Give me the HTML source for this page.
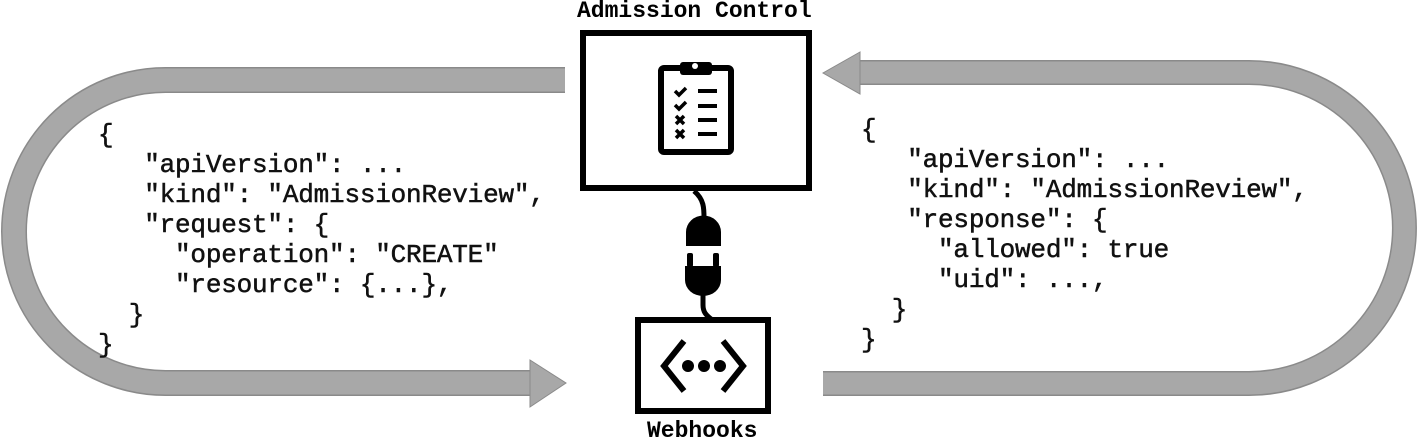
<!DOCTYPE html>
<html><head><meta charset="utf-8"><style>
html,body{margin:0;padding:0;background:#fff;}
body{width:1418px;height:442px;position:relative;overflow:hidden;}
.code{position:absolute;font-family:"Liberation Mono",monospace;font-size:26px;line-height:30px;white-space:pre;color:#111;letter-spacing:-0.2px;-webkit-text-stroke:0.5px #111;}
.lbl{position:absolute;font-family:"Liberation Mono",monospace;font-weight:bold;font-size:23px;color:#000;}
</style></head><body>
<svg width="1418" height="442" style="position:absolute;left:0;top:0">
  <g fill="none" stroke-linejoin="miter">
    <path d="M565 80 H165.5 A151.5 151.5 0 0 0 165.5 383 H532" stroke="#8a8a8a" stroke-width="26"/>
    <path d="M565 80 H165.5 A151.5 151.5 0 0 0 165.5 383 H532" stroke="#a8a8a8" stroke-width="23"/>
    <path d="M823 383.5 H1249 A155.5 155.5 0 0 0 1249 72.5 H858" stroke="#8a8a8a" stroke-width="25"/>
    <path d="M823 383.5 H1249 A155.5 155.5 0 0 0 1249 72.5 H858" stroke="#a8a8a8" stroke-width="22"/>
  </g>
  <polygon points="530,360 566,383 530,407" fill="#a8a8a8" stroke="#8a8a8a" stroke-width="1"/>
  <polygon points="860,52 823,73 860,94" fill="#a8a8a8" stroke="#8a8a8a" stroke-width="1"/>
  <rect x="583" y="33" width="226" height="155" fill="#fff" stroke="#000" stroke-width="6"/>
  <rect x="661" y="68" width="70" height="84" rx="3" fill="none" stroke="#000" stroke-width="6"/>
  <rect x="680" y="62" width="32" height="13" rx="3" fill="#000"/>
  <circle cx="695" cy="66" r="3" fill="#fff"/>
  <g stroke="#000" stroke-width="3.5" fill="none">
    <path d="M675 91 l4 4 l7 -7"/><path d="M675 105 l4 4 l7 -7"/>
    <path d="M676 116 l8 8 M684 116 l-8 8"/><path d="M676 130 l8 8 M684 130 l-8 8"/>
  </g>
  <g stroke="#000" stroke-width="4">
    <path d="M698 91 H717 M698 106 H717 M698 120 H717 M698 134 H717"/>
  </g>
  <path d="M694 191 C705 200 704 210 704 222" stroke="#000" stroke-width="5" fill="none"/>
  <path d="M686 246 V232 a17 16 0 0 1 35 0 V246 Z" fill="#000"/>
  <rect x="687" y="253" width="6" height="14" rx="2" fill="#000"/>
  <rect x="713" y="253" width="6" height="14" rx="2" fill="#000"/>
  <path d="M685 266 H721 V280 a18 16 0 0 1 -36 0 Z" fill="#000"/>
  <path d="M703 292 V305 C703 312 706 315 711 319" stroke="#000" stroke-width="5" fill="none"/>
  <rect x="638" y="320" width="130" height="91" fill="#fff" stroke="#000" stroke-width="6"/>
  <g stroke="#000" stroke-width="6" fill="none">
    <path d="M684 341 L664 366 L684 391"/>
    <path d="M723 341 L743 366 L723 391"/>
  </g>
  <circle cx="688" cy="366" r="6" fill="#000"/>
  <circle cx="704" cy="366" r="6" fill="#000"/>
  <circle cx="720" cy="366" r="6" fill="#000"/>
</svg>
<div class="lbl" style="left:577px;top:-2px;">Admission Control</div>
<div class="lbl" style="left:647px;top:418px;">Webhooks</div>
<div class="code" style="left:98px;top:120px;">{
   "apiVersion": ...
   "kind": "AdmissionReview",
   "request": {
     "operation": "CREATE"
     "resource": {...},
  }
}</div>
<div class="code" style="left:861px;top:115px;">{
   "apiVersion": ...
   "kind": "AdmissionReview",
   "response": {
     "allowed": true
     "uid": ...,
  }
}</div>
</body></html>
